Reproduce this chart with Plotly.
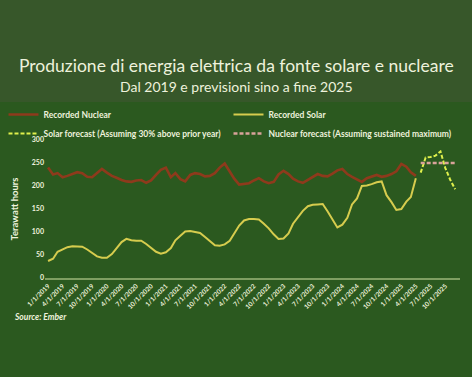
import pandas as pd
import plotly.graph_objects as go

# ---- data (monthly, TWh) ----
recorded_months = pd.date_range("2019-01-01", "2025-04-01", freq="MS")
forecast_months = pd.date_range("2025-05-01", "2025-12-01", freq="MS")

recorded_nuclear = [
    240, 225, 228, 219, 222, 226, 230, 228, 220, 219, 228, 237,
    229, 222, 218, 213, 210, 209, 212, 213, 207, 212, 224, 235,
    240, 219, 228, 215, 210, 224, 228, 226, 221, 222, 228, 240,
    249, 230, 216, 203, 205, 206, 212, 217, 210, 206, 209, 225,
    233, 226, 216, 210, 207, 213, 220, 226, 222, 221, 227, 234,
    237, 226, 220, 215, 209, 217, 221, 224, 220, 222, 226, 232,
    248, 242, 230, 222,
]
recorded_solar = [
    37, 42, 57, 63, 67, 69, 69, 68, 62, 55, 47, 44,
    44, 52, 64, 78, 85, 82, 81, 81, 74, 66, 57, 53,
    56, 65, 82, 92, 101, 102, 100, 98, 89, 80, 71, 70,
    73, 81, 96, 114, 125, 128, 128, 127, 118, 108, 95, 85,
    86, 97, 118, 133, 146, 156, 159, 160, 161, 145, 126, 110,
    116, 131, 160, 173, 200, 201, 204, 208, 210, 180, 165, 148,
    150, 166, 176, 217,
]
solar_forecast = [229, 262, 263, 266, 275, 239, 213, 193]
nuclear_forecast = [250, 250, 250, 250, 250, 250, 250, 250]

y_ticks = [0, 50, 100, 150, 200, 250, 300]

# ---- styling ----
BG = "#2b591f"
BAND = "#37572a"
TXT = "#eef2dc"
FONT = "Lato"

fig = go.Figure()
fig.add_trace(go.Scatter(x=recorded_months, y=recorded_nuclear, mode="lines",
                         name="Recorded Nuclear",
                         line=dict(color="#8e3a1c", width=2.6)))
fig.add_trace(go.Scatter(x=recorded_months, y=recorded_solar, mode="lines",
                         name="Recorded Solar",
                         line=dict(color="#d6cc4e", width=2)))
fig.add_trace(go.Scatter(x=forecast_months, y=solar_forecast, mode="lines",
                         name="Solar forecast (Assuming 30% above prior year)",
                         line=dict(color="#dff04c", width=2, dash="4px,2px")))
fig.add_trace(go.Scatter(x=forecast_months, y=nuclear_forecast, mode="lines",
                         name="Nuclear forecast (Assuming sustained maximum)",
                         line=dict(color="#d9a39a", width=2.4, dash="4px,2px")))

fig.update_layout(
    width=472, height=377,
    margin=dict(l=45, r=12, t=140, b=99, autoexpand=False),
    paper_bgcolor=BG, plot_bgcolor=BG,
    font=dict(family=FONT, color=TXT),
    showlegend=True,
    legend=dict(orientation="h", x=-0.1, y=(278 - 100) / 138, xanchor="left", yanchor="top",
                entrywidth=180, entrywidthmode="pixels",
                font=dict(family=FONT, size=8.5, color=TXT, weight="bold"),
                bgcolor="rgba(0,0,0,0)", tracegroupgap=0),
    xaxis=dict(type="date",
               range=["2018-12-13", "2025-12-31"],
               tick0="2019-01-01", dtick="M3", tickformat="%-m/%-d/%Y",
               tickangle=-45, showgrid=False, zeroline=False,
               showline=True, linecolor="#7f9f62", linewidth=1.5,
               ticks="", tickfont=dict(family=FONT, size=6.5, color=TXT, weight="bold")),
    yaxis=dict(range=[0, 300], tickvals=y_ticks, showgrid=False, zeroline=False,
               showline=False, ticks="",
               tickfont=dict(family=FONT, size=7, color=TXT, weight="bold"),
               title=dict(text="Terawatt hours", standoff=11,
                          font=dict(family=FONT, size=9.5, color=TXT, weight="bold"))),
    shapes=[dict(type="rect", xref="paper", yref="paper",
                 x0=-0.2, x1=1.1, y0=(278 - 102) / 138, y1=2.1,
                 fillcolor=BAND, line=dict(width=0), layer="below")],
    annotations=[
        dict(text="Produzione di energia elettrica da fonte solare e nucleare",
             xref="paper", yref="paper", x=(236 - 45) / 415, y=(278 - 65) / 138,
             xanchor="center", yanchor="middle", showarrow=False,
             font=dict(family=FONT, size=17.5, color=TXT)),
        dict(text="Dal 2019 e previsioni sino a fine 2025",
             xref="paper", yref="paper", x=(236 - 45) / 415, y=(278 - 86) / 138,
             xanchor="center", yanchor="middle", showarrow=False,
             font=dict(family=FONT, size=14, color=TXT)),
        dict(text="<b><i>Source: Ember</i></b>",
             xref="paper", yref="paper", x=(12 - 45) / 415, y=(278 - 317) / 138,
             xanchor="left", yanchor="middle", showarrow=False,
             font=dict(family=FONT, size=8.5, color=TXT)),
    ],
)

fig.write_html("out.html",
               config={"displayModeBar": False},
               post_script="document.body.style.margin='0';"
                           "document.body.style.background='" + BG + "';")
